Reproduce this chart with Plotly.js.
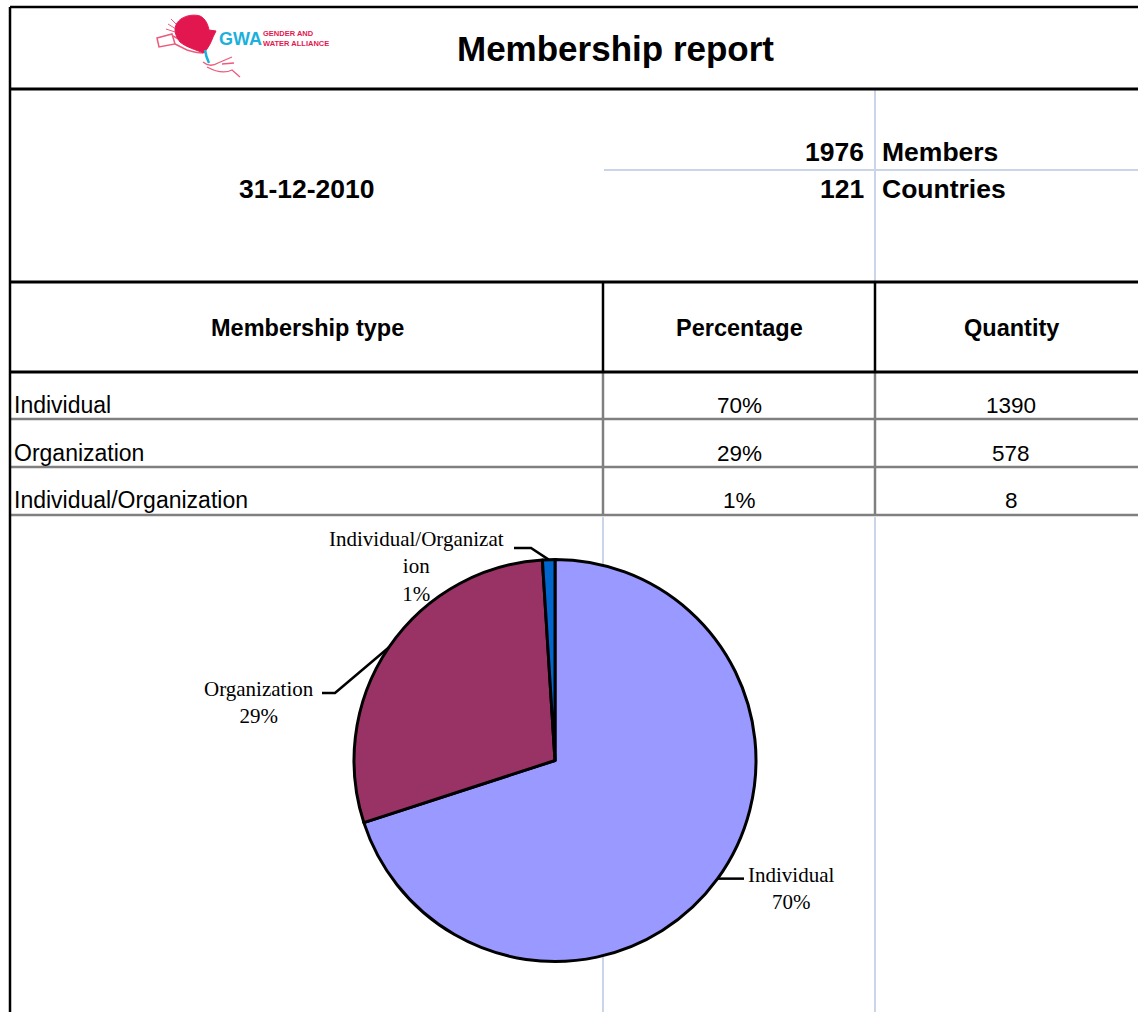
<!DOCTYPE html>
<html>
<head>
<meta charset="utf-8">
<script src="https://cdn.plot.ly/plotly-3.0.1.min.js"></script>
<style>
  html, body { margin: 0; padding: 0; background: #ffffff; }
  #chart { width: 1138px; height: 1012px; }
</style>
</head>
<body>
<div id="chart"></div>
<script>
// ---------------- DATA ----------------
const reportTitle = "Membership report";
const reportDate = "31-12-2010";
const totalMembers = 1976;
const totalCountries = 121;
const headers = ["Membership type", "Percentage", "Quantity"];
const membershipTypes = ["Individual", "Organization", "Individual/Organization"];
const percentages = [70, 29, 1];
const quantities = [1390, 578, 8];
const sliceColors = ["#9999FF", "#993366", "#0066CC"];

// ---------------- LAYOUT HELPERS (pixel space) ----------------
const W = 1138, H = 1012;
const SANS = "Liberation Sans, Arial, sans-serif";
const SERIF = "Liberation Serif, Times New Roman, serif";

// pie geometry (pixel)
const pieLeft = 354, pieRight = 756, pieTop = 559, pieBottom = 962;
const cx = (pieLeft + pieRight) / 2, cy = (pieTop + pieBottom) / 2;
const R = Math.min(pieRight - pieLeft, pieBottom - pieTop) / 2;

const shapes = [];
const annotations = [];

function line(x0, y0, x1, y1, color, width, layer) {
  shapes.push({type: "line", xref: "x", yref: "y", x0, y0, x1, y1,
    line: {color, width}, layer: layer || "above"});
}
function text(t, x, y, opts) {
  opts = opts || {};
  annotations.push(Object.assign({
    xref: "x", yref: "y", x, y, text: t, showarrow: false,
    xanchor: "center", yanchor: "middle",
    font: {family: SANS, size: 22, color: "#000000"}
  }, opts));
}

// ---------------- GRID LINES ----------------
const BLACK = "#000000", GRAY = "#808080", LIGHT = "#cbd5e8";
const xCol1 = 603, xCol2 = 875, xL = 10, xR = W;
// light gridlines (below pie)
line(xCol2, 89, xCol2, 282, LIGHT, 2, "below");
line(604, 170, xR, 170, LIGHT, 2, "below");
line(xCol1, 517, xCol1, H, LIGHT, 2, "below");
line(xCol2, 517, xCol2, H, LIGHT, 2, "below");
// gray row lines
line(xCol1, 372, xCol1, 516, GRAY, 2.5);
line(xCol2, 372, xCol2, 516, GRAY, 2.5);
[419, 467, 515].forEach(y => line(xL, y, xR, y, GRAY, 2.5));
// black borders
line(xL, 7, xR, 7, BLACK, 2.5);
line(xL, 7, xL, H, BLACK, 2.5);
line(xL, 89, xR, 89, BLACK, 3);
line(xL, 282, xR, 282, BLACK, 3);
line(xL, 372, xR, 372, BLACK, 3);
line(xCol1, 282, xCol1, 372, BLACK, 2.5);
line(xCol2, 282, xCol2, 372, BLACK, 2.5);

// ---------------- LOGO (decoration) ----------------
const CRIMSON = "#e3174f", PINK = "#ee5a7c", CYAN = "#1cb0dc";
function path(d, fill, color, width) {
  shapes.push({type: "path", xref: "x", yref: "y", path: d,
    fillcolor: fill || "rgba(0,0,0,0)", line: {color: color || "rgba(0,0,0,0)", width: width || 0}});
}
path("M 157 38 L 172 34 L 175 44 L 159 47 Z", null, PINK, 1.5);
path("M 173 36 L 186 43 Q 195 48 203 50", null, PINK, 1.5);
path("M 175 44 L 187 50 Q 196 53 203 53", null, PINK, 1.5);
path("M 168 24 L 176 29 M 166 29 L 175 32 M 171 19 L 178 26", null, PINK, 1);
path("M 175 30 C 175 18 190 13 200 16 C 206 19 208 25 209 30 L 216 31 L 213 37 C 211 43 208 48 204 53 C 196 50 186 47 180 42 C 177 38 175 34 175 30 Z", CRIMSON, CRIMSON, 1);
path("M 205 50 Q 206 57 209 63", null, CYAN, 2.5);
path("M 203 62 Q 210 68 218 63 L 232 57 M 207 67 Q 222 75 232 70 L 240 77 M 222 64 L 234 63", null, PINK, 1.3);
text("<b>GWA</b>", 217, 39, {xanchor: "left", font: {family: SANS, size: 18, color: CYAN}});
text("<b>GENDER AND<br>WATER ALLIANCE</b>", 261, 38, {xanchor: "left", align: "left",
  font: {family: SANS, size: 7.5, color: CRIMSON}});

// ---------------- HEADER TEXTS ----------------
text("<b>" + reportTitle + "</b>", 615, 48, {font: {family: SANS, size: 35, color: "#000"}});
text("<b>" + reportDate + "</b>", 307, 189, {font: {family: SANS, size: 26.5, color: "#000"}});
text("<b>" + totalMembers + "</b>", 866, 152, {xanchor: "right", font: {family: SANS, size: 26.5, color: "#000"}});
text("<b>Members</b>", 880, 152, {xanchor: "left", font: {family: SANS, size: 26.5, color: "#000"}});
text("<b>" + totalCountries + "</b>", 866, 189, {xanchor: "right", font: {family: SANS, size: 26.5, color: "#000"}});
text("<b>Countries</b>", 880, 189, {xanchor: "left", font: {family: SANS, size: 26.5, color: "#000"}});

// table header
const colCenters = [307, 739, 1011];
headers.forEach((h, i) => text("<b>" + h + "</b>", colCenters[i], 328,
  {font: {family: SANS, size: 23.5, color: "#000"}}));
// table rows
const rowY = [405, 453, 500];
membershipTypes.forEach((t, i) => {
  text(t, 12, rowY[i], {xanchor: "left", font: {family: SANS, size: 23, color: "#000"}});
  text(percentages[i] + "%", colCenters[1], rowY[i], {font: {family: SANS, size: 22.5, color: "#000"}});
  text(String(quantities[i]), colCenters[2], rowY[i], {font: {family: SANS, size: 22.5, color: "#000"}});
});

// ---------------- PIE LABELS with leader lines ----------------
function wrap(s, n) {
  const parts = [];
  for (let i = 0; i < s.length; i += n) parts.push(s.slice(i, i + n));
  return parts.join("<br>");
}
// label placement (pixel) per slice: elbow, end of leader, text center
const labelPlacement = [
  {elbow: null, end: [744, null], text: [791, 888]},
  {elbow: [335, 693], end: [322, 693], text: [259, 702]},
  {elbow: [531, 548], end: [514, 548], text: [416, 566]}
];
const totalPct = percentages.reduce((a, b) => a + b, 0);
let cum = 0;
percentages.forEach((v, i) => {
  const mid = (cum + v / 2) / totalPct * 2 * Math.PI; // clockwise from 12 o'clock
  cum += v;
  const px = cx + R * Math.sin(mid), py = cy - R * Math.cos(mid);
  const lp = labelPlacement[i];
  const elbow = lp.elbow || [px, py];
  const end = [lp.end[0], lp.end[1] === null ? elbow[1] : lp.end[1]];
  path(`M ${px} ${py} L ${elbow[0]} ${elbow[1]} L ${end[0]} ${end[1]}`, null, BLACK, 2.5);
  text(wrap(membershipTypes[i], 20) + "<br>" + v + "%", lp.text[0], lp.text[1],
    {font: {family: SERIF, size: 21, color: "#000"}});
});

// ---------------- TRACE ----------------
const pieTrace = {
  type: "pie",
  labels: membershipTypes,
  values: percentages,
  sort: false,
  direction: "clockwise",
  rotation: 0,
  textinfo: "none",
  hoverinfo: "skip",
  showlegend: false,
  marker: {colors: sliceColors, line: {color: "#000000", width: 3}},
  domain: {x: [pieLeft / W, pieRight / W], y: [1 - pieBottom / H, 1 - pieTop / H]}
};

const layout = {
  width: W, height: H,
  margin: {l: 0, r: 0, t: 0, b: 0, pad: 0},
  paper_bgcolor: "#ffffff",
  plot_bgcolor: "rgba(0,0,0,0)",
  showlegend: false,
  xaxis: {range: [0, W], visible: false, fixedrange: true, domain: [0, 1]},
  yaxis: {range: [H, 0], visible: false, fixedrange: true, domain: [0, 1]},
  shapes, annotations
};

Plotly.newPlot("chart", [pieTrace], layout, {staticPlot: true, displayModeBar: false});
</script>
</body>
</html>
